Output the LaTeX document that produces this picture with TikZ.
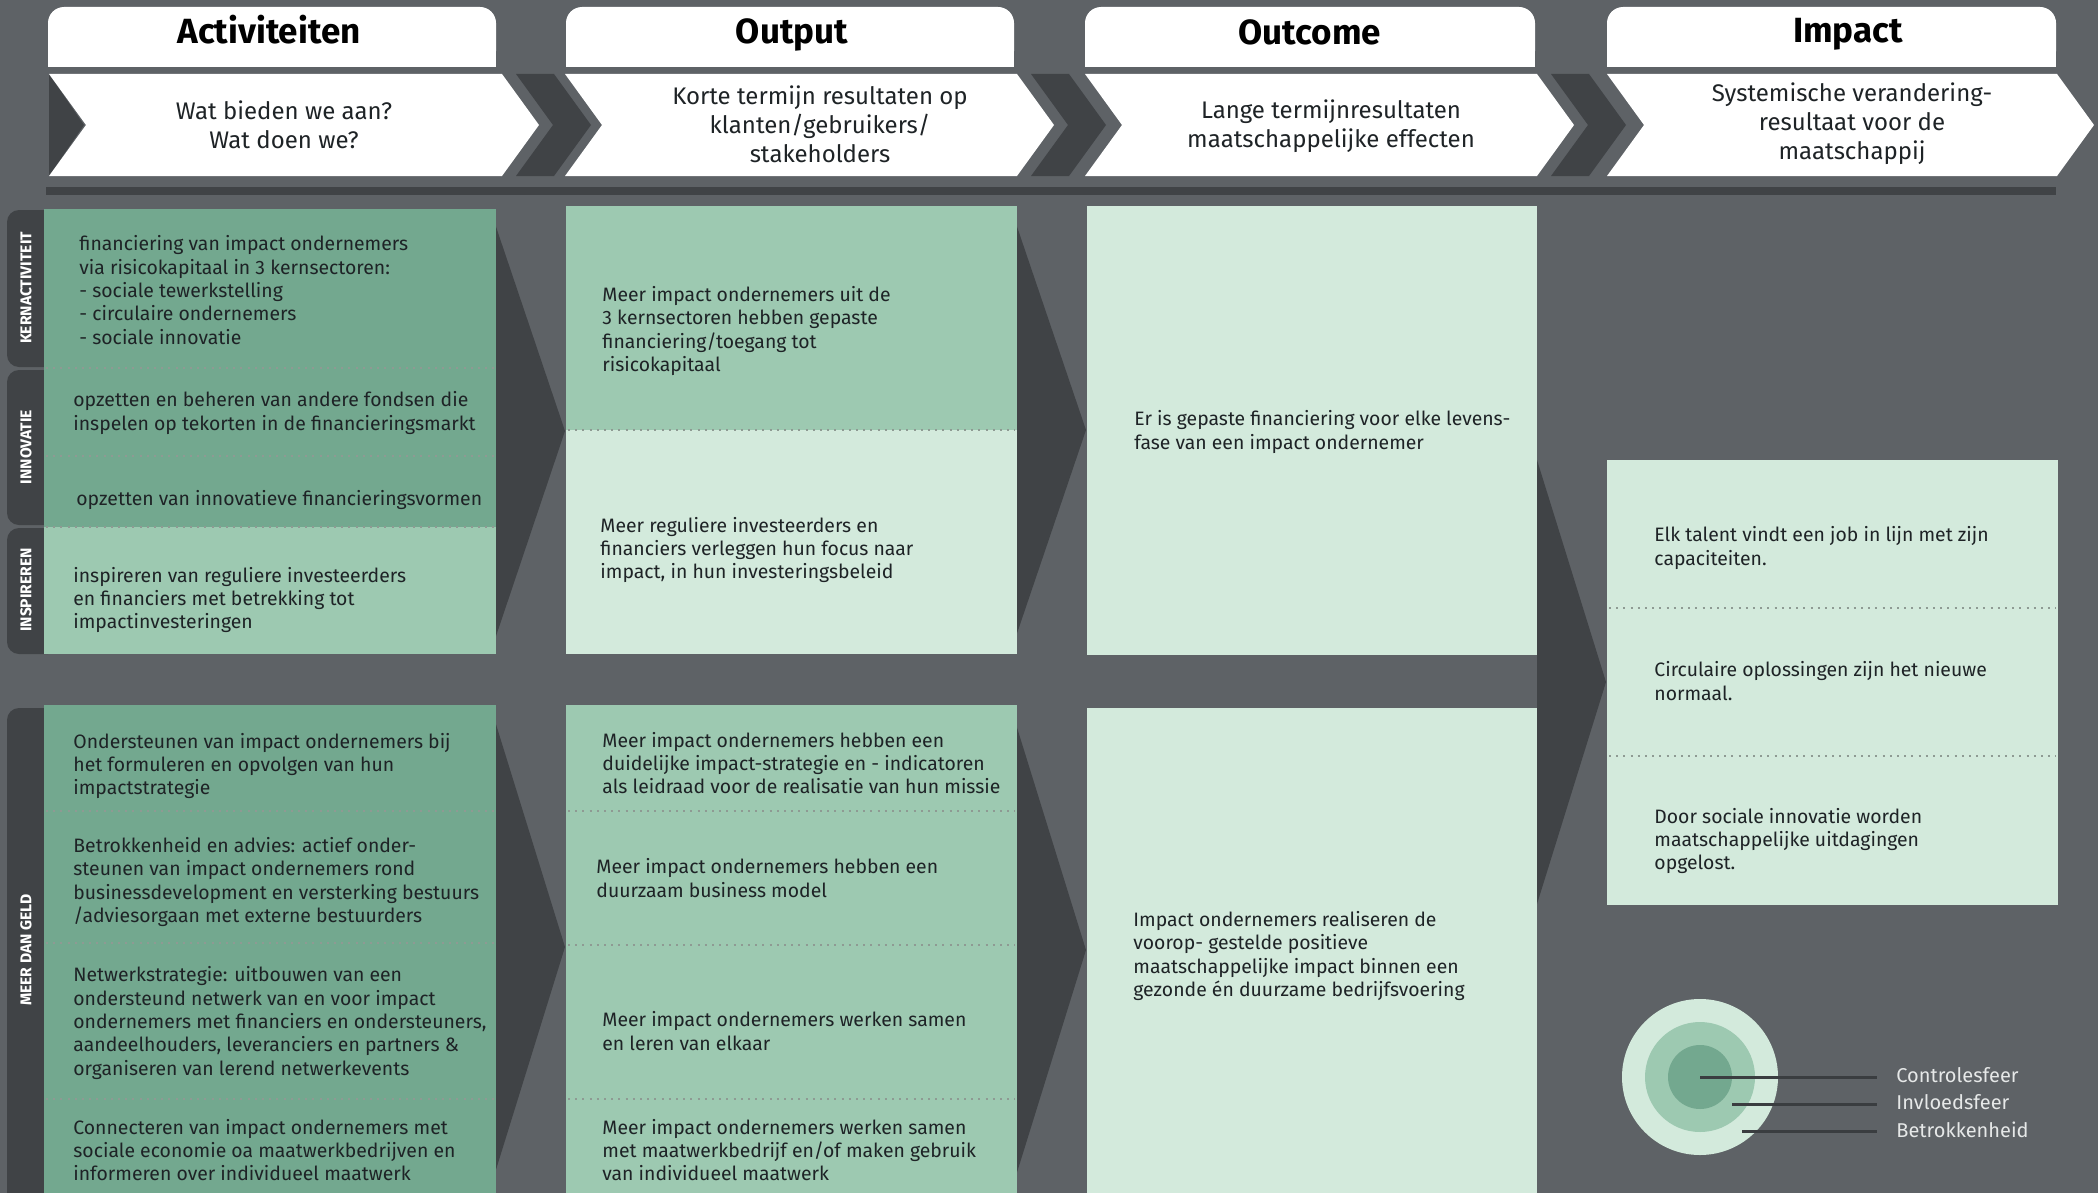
\documentclass[tikz,border=0pt]{standalone}
\usepackage{fontspec}
\setmainfont{Fira Sans}
\usetikzlibrary{positioning}
\definecolor{bggray}{HTML}{5E6266}
\definecolor{darkgray}{HTML}{404346}
\definecolor{midgreen}{HTML}{73A88F}
\definecolor{softgreen}{HTML}{9DC9B1}
\definecolor{palegreen}{HTML}{D3EADC}
\definecolor{txtcol}{HTML}{1E2326}
\definecolor{dotcol}{HTML}{8E9A93}
\definecolor{legcol}{HTML}{E6E8E8}
\definecolor{legline}{HTML}{3A3D40}
\tikzstyle{headtxt} = [anchor=base, font=\bfseries\fontsize{17.5}{20}\selectfont, text=black]
\tikzstyle{chevtxt} = [align=center, font=\fontsize{12}{14.5}\selectfont, text=txtcol]
\tikzstyle{celltxt} = [anchor=west, align=left, inner sep=0pt, font=\fontsize{9.7}{11.65}\selectfont, text=txtcol]
\tikzstyle{sidelbl} = [rotate=90, text=white, font=\bfseries\fontsize{7.8}{9}\selectfont]
\tikzstyle{legtxt} = [anchor=west, inner sep=0pt, text=legcol, font=\fontsize{10}{12}\selectfont]
\tikzstyle{dotrow} = [dotcol, line width=1pt, dash pattern=on 1pt off 2.6pt]
\tikzstyle{legrule} = [legline, line width=1.5pt]

\begin{document}
\begin{tikzpicture}[x=0.5pt, y=-0.5pt]
  \useasboundingbox (0,0) rectangle (2098,1193);
  \clip (0,0) rectangle (2098,1193);
  \fill[bggray] (0,0) rectangle (2098,1193);

  % header tabs
  \foreach \l/\r in {48/496, 566/1014, 1085/1535, 1607/2056} {
    \fill[white, rounded corners=8pt] (\l,7) rectangle (\r,67);
    \fill[white] (\l,40) rectangle (\r,67);
  }
  \node[headtxt] (activ) at (269,44) {Activiteiten};
  \node[headtxt] (outp) at (792,44) {Output};
  \node[headtxt] (outc) at (1310,45) {Outcome};
  \node[headtxt] (impa) at (1848,43) {Impact};

  % chevrons
  \fill[darkgray] (49,74) -- (84,125) -- (49,176) -- cycle;
  \foreach \l/\r in {49/502, 565/1017, 1085/1537, 1607/2057} {
    \fill[white] (\l,74) -- (\r,74) -- (\r+37,125) -- (\r,176) -- (\l,176) -- (\l+37,125) -- cycle;
  }
  \foreach \r in {502, 1017, 1537} {
    \fill[darkgray] (\r+14,74) -- (\r+52,74) -- (\r+89,125) -- (\r+52,176) -- (\r+14,176) -- (\r+51,125) -- cycle;
  }
  \node[chevtxt] (chev1) at (284,125) {Wat bieden we aan?\\Wat doen we?};
  \node[chevtxt] (chev2) at (820,124) {Korte termijn resultaten op\\klanten/gebruikers/\\stakeholders};
  \node[chevtxt] (chev3) at (1331,126) {Lange termijnresultaten\\maatschappelijke effecten};
  \node[chevtxt] (chev4) at (1852,124) {Systemische verandering-\\resultaat voor de\\maatschappij};
  \fill[darkgray] (46,187) rectangle (2056,195);

  % arrows behind the columns
  \fill[darkgray] (490,209) -- (565,431) -- (490,654) -- cycle;
  \fill[darkgray] (1010,206) -- (1086,430) -- (1010,654) -- cycle;
  \fill[darkgray] (490,705) -- (565,947) -- (490,1189) -- cycle;
  \fill[darkgray] (1010,705) -- (1086,950) -- (1010,1195) -- cycle;
  \fill[darkgray] (1537,460) -- (1606,682) -- (1537,904) -- cycle;

  % side tabs
  \fill[darkgray, rounded corners=6pt] (7,210) rectangle (60,367);
  \fill[darkgray, rounded corners=6pt] (7,370) rectangle (60,525);
  \fill[darkgray, rounded corners=6pt] (7,528) rectangle (60,654);
  \fill[darkgray, rounded corners=6pt] (7,708) rectangle (60,1220);
  \node[sidelbl] (kern) at (26,288) {KERNACTIVITEIT};
  \node[sidelbl] (inno) at (26,447) {INNOVATIE};
  \node[sidelbl] (insp) at (26,590) {INSPIREREN};
  \node[sidelbl] (meer) at (26,950) {MEER DAN GELD};

  % boxes
  \fill[midgreen] (44,209) rectangle (496,527);
  \fill[softgreen] (44,527) rectangle (496,654);
  \fill[softgreen] (566,206) rectangle (1017,430);
  \fill[palegreen] (566,430) rectangle (1017,654);
  \fill[palegreen] (1087,206) rectangle (1537,655);
  \fill[palegreen] (1607,460) rectangle (2058,905);
  \fill[midgreen] (44,705) rectangle (496,1200);
  \fill[softgreen] (566,705) rectangle (1017,1200);
  \fill[palegreen] (1087,708) rectangle (1537,1200);

  \foreach \y in {368, 456, 527, 811, 943, 1099}
    \draw[dotrow] (46,\y) -- (494,\y);
  \foreach \y in {430, 811, 945, 1099}
    \draw[dotrow] (568,\y) -- (1015,\y);
  \foreach \y in {608, 756}
    \draw[dotrow] (1609,\y) -- (2056,\y);

  % texts
  \node[celltxt] (act1) at (79,290) {financiering van impact ondernemers\\via risicokapitaal in 3 kernsectoren:\\- sociale tewerkstelling\\- circulaire ondernemers\\- sociale innovatie};
  \node[celltxt] (act2) at (73,413) {opzetten en beheren van andere fondsen die\\inspelen op tekorten in de financieringsmarkt};
  \node[celltxt] (act3) at (76,500) {opzetten van innovatieve financieringsvormen};
  \node[celltxt] (act4) at (73,600) {inspireren van reguliere investeerders\\en financiers met betrekking tot\\impactinvesteringen};
  \node[celltxt] (act5) at (73,766) {Ondersteunen van impact ondernemers bij\\het formuleren en opvolgen van hun\\impactstrategie};
  \node[celltxt] (act6) at (73,882) {Betrokkenheid en advies: actief onder-\\steunen van impact ondernemers rond\\businessdevelopment en versterking bestuurs\\/adviesorgaan met externe bestuurders};
  \node[celltxt] (act7) at (73,1023) {Netwerkstrategie: uitbouwen van een\\ondersteund netwerk van en voor impact\\ondernemers met financiers en ondersteuners,\\aandeelhouders, leveranciers en partners \&\\organiseren van lerend netwerkevents};
  \node[celltxt] (act8) at (73,1150) {Connecteren van impact ondernemers met\\sociale economie oa maatwerkbedrijven en\\informeren over individueel maatwerk};

  \node[celltxt] (out1) at (602,331) {Meer impact ondernemers uit de\\3 kernsectoren hebben gepaste\\financiering/toegang tot\\risicokapitaal};
  \node[celltxt] (out2) at (600,550) {Meer reguliere investeerders en\\financiers verleggen hun focus naar\\impact, in hun investeringsbeleid};
  \node[celltxt] (out3) at (602,763) {Meer impact ondernemers hebben een\\duidelijke impact-strategie en - indicatoren\\als leidraad voor de realisatie van hun missie};
  \node[celltxt] (out4) at (596,878) {Meer impact ondernemers hebben een\\duurzaam business model};
  \node[celltxt] (out5) at (602,1031) {Meer impact ondernemers werken samen\\en leren van elkaar};
  \node[celltxt] (out6) at (602,1150) {Meer impact ondernemers werken samen\\met maatwerkbedrijf en/of maken gebruik\\van individueel maatwerk};

  \node[celltxt] (oc1) at (1134,432) {Er is gepaste financiering voor elke levens-\\fase van een impact ondernemer};
  \node[celltxt] (oc2) at (1133,956) {Impact ondernemers realiseren de\\voorop- gestelde positieve\\maatschappelijke impact binnen een\\gezonde én duurzame bedrijfsvoering};

  \node[celltxt] (im1) at (1654,548) {Elk talent vindt een job in lijn met zijn\\capaciteiten.};
  \node[celltxt] (im2) at (1654,681) {Circulaire oplossingen zijn het nieuwe\\normaal.};
  \node[celltxt] (im3) at (1654,841) {Door sociale innovatie worden\\maatschappelijke uitdagingen\\opgelost.};

  % legend
  \fill[palegreen] (1700,1077) circle (78);
  \fill[softgreen] (1700,1077) circle (55);
  \fill[midgreen] (1700,1077) circle (32);
  \node[legtxt] (ctrl) at (1896,1075) {Controlesfeer};
  \node[legtxt] (invl) at (1896,1102) {Invloedsfeer};
  \node[legtxt] (betr) at (1896,1130) {Betrokkenheid};
  \coordinate (p1) at (1700,1077);
  \coordinate (p2) at (1732,1104);
  \coordinate (p3) at (1742,1131);
  \draw[legrule] (p1) -- ([xshift=-9.5pt]ctrl.west |- p1);
  \draw[legrule] (p2) -- ([xshift=-9.5pt]invl.west |- p2);
  \draw[legrule] (p3) -- ([xshift=-9.5pt]betr.west |- p3);
\end{tikzpicture}
\end{document}
